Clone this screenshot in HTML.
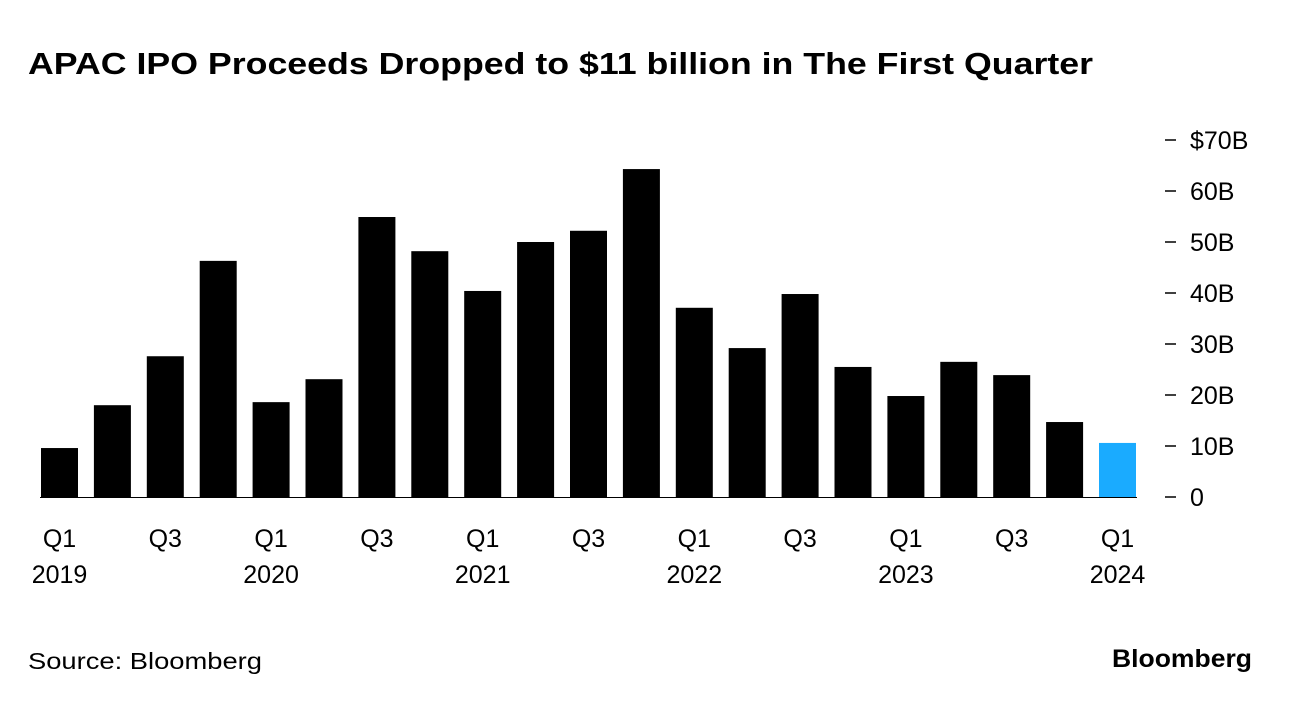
<!DOCTYPE html>
<html><head><meta charset="utf-8"><style>
body{margin:0;background:#fff;width:1292px;height:702px;overflow:hidden;font-family:"Liberation Sans",sans-serif;}
svg text{font-family:"Liberation Sans",sans-serif;}
</style></head><body>
<svg width="1292" height="702">
<text x="28" y="74" font-size="31" font-weight="bold" fill="#000" textLength="1065" lengthAdjust="spacingAndGlyphs">APAC IPO Proceeds Dropped to $11 billion in The First Quarter</text>
<g id="bars"></g><g id="yaxis"></g><g id="xaxis"></g>
<text x="28" y="669" font-size="23" fill="#000" textLength="234" lengthAdjust="spacingAndGlyphs">Source: Bloomberg</text>
<text x="1112" y="667" font-size="25" font-weight="bold" fill="#000" textLength="140" lengthAdjust="spacingAndGlyphs">Bloomberg</text>
</svg>
<script>
const values=[9.6,18.0,27.6,46.3,18.6,23.1,54.9,48.2,40.4,50.0,52.2,64.3,37.1,29.2,39.8,25.5,19.8,26.5,23.9,14.7,10.6];
const yTicks=[0,10,20,30,40,50,60,70];
const yTickLabels=["0","10B","20B","30B","40B","50B","60B","$70B"];
const xLabelIdx=[0,2,4,6,8,10,12,14,16,18,20];
const xLabelTop=["Q1","Q3","Q1","Q3","Q1","Q3","Q1","Q3","Q1","Q3","Q1"];
const xLabelBottom=["2019","","2020","","2021","","2022","","2023","","2024"];
const NS="http://www.w3.org/2000/svg";
const y=v=>497-v*5.1;
const x=i=>41+i*52.9;
const bw=37;
const bars=document.getElementById('bars');
values.forEach((v,i)=>{
 const r=document.createElementNS(NS,'rect');
 r.setAttribute('x',x(i));r.setAttribute('y',y(v));r.setAttribute('width',bw);r.setAttribute('height',497-y(v));
 r.setAttribute('fill',i===values.length-1?'#1aabff':'#000');
 
 
 bars.appendChild(r);
});
const base=document.createElementNS(NS,'line');
base.setAttribute('x1',40);base.setAttribute('x2',x(values.length-1)+bw+1);base.setAttribute('y1',497.5);base.setAttribute('y2',497.5);base.setAttribute('stroke','#000');base.setAttribute('stroke-width',1);


bars.appendChild(base);
const ya=document.getElementById('yaxis');
yTicks.forEach((t,i)=>{
 const l=document.createElementNS(NS,'line');
 l.setAttribute('x1',1165);l.setAttribute('x2',1176);l.setAttribute('y1',y(t));l.setAttribute('y2',y(t));l.setAttribute('stroke','#000');l.setAttribute('stroke-width',1.5);
 
 
 ya.appendChild(l);
 const tx=document.createElementNS(NS,'text');
 tx.setAttribute('x',1190);tx.setAttribute('y',y(t)+9);tx.setAttribute('font-size',25);tx.textContent=yTickLabels[i];
 
 
 ya.appendChild(tx);
});
const xa=document.getElementById('xaxis');
xLabelIdx.forEach((idx,k)=>{
 const cx=x(idx)+bw/2;
 const t1=document.createElementNS(NS,'text');
 t1.setAttribute('x',cx);t1.setAttribute('y',547);t1.setAttribute('font-size',25);t1.setAttribute('text-anchor','middle');t1.textContent=xLabelTop[k];
 
 
 xa.appendChild(t1);
 if(xLabelBottom[k]){
 const t2=document.createElementNS(NS,'text');
 t2.setAttribute('x',cx);t2.setAttribute('y',583);t2.setAttribute('font-size',25);t2.setAttribute('text-anchor','middle');t2.textContent=xLabelBottom[k];
 
 
 xa.appendChild(t2);}
});
</script>
</body></html>
